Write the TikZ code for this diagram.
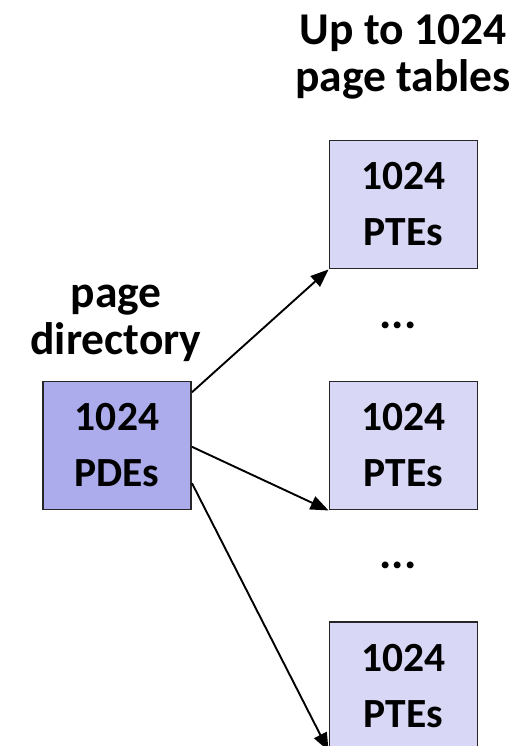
\documentclass[tikz,border=0pt]{standalone}
\usepackage{fontspec}
\setmainfont{Carlito}
\usetikzlibrary{arrows.meta,calc}
\definecolor{pdefill}{RGB}{172,172,236}
\definecolor{ptefill}{RGB}{216,216,246}
\tikzset{
  tablebox/.style={draw=black!85, line width=1.9pt, minimum width=148pt, minimum height=128pt,
    inner sep=0pt, align=center, font=\bfseries\fontsize{41.5}{56}\selectfont},
  pdebox/.style={tablebox, fill=pdefill},
  ptebox/.style={tablebox, fill=ptefill},
  heading/.style={align=center, font=\bfseries\fontsize{45.5}{47}\selectfont, inner sep=0pt},
  dotsnode/.style={font=\bfseries\fontsize{46}{48}\selectfont, inner sep=0pt},
  link/.style={draw=black, line width=1.9pt, -{Triangle[length=18pt,width=14pt]}}
}
\begin{document}
\begin{tikzpicture}[x=1pt,y=-1pt]
  \useasboundingbox (0,0) rectangle (521,746);
  \clip (0,0) rectangle (521,746);

  % headings
  \node[heading] (hdir) at (116,323) {page\\directory};
  \node[heading] (htab) at (403,57) {Up to 1024\\page tables};

  % page directory and page tables
  \node[pdebox] (pde) at (117,445.5) {1024\\PDEs};
  \node[ptebox] (pt1) at (403.5,204.5) {1024\\PTEs};
  \node[ptebox] (pt2) at (403.5,445.5) {1024\\PTEs};
  \node[ptebox] (pt3) at (403.5,686) {1024\\PTEs};

  % ellipses between tables
  \node[dotsnode] (d1) at (398,325) {...};
  \node[dotsnode] (d2) at (398,565) {...};

  % pointers from the directory to the tables
  \draw[link] ($(pde.north east)!0.09!(pde.south east)$) -- (pt1.south west);
  \draw[link] ($(pde.north east)!0.51!(pde.south east)$) -- (pt2.south west);
  \draw[link] ($(pde.north east)!0.79!(pde.south east)$) -- (pt3.south west);
\end{tikzpicture}
\end{document}
